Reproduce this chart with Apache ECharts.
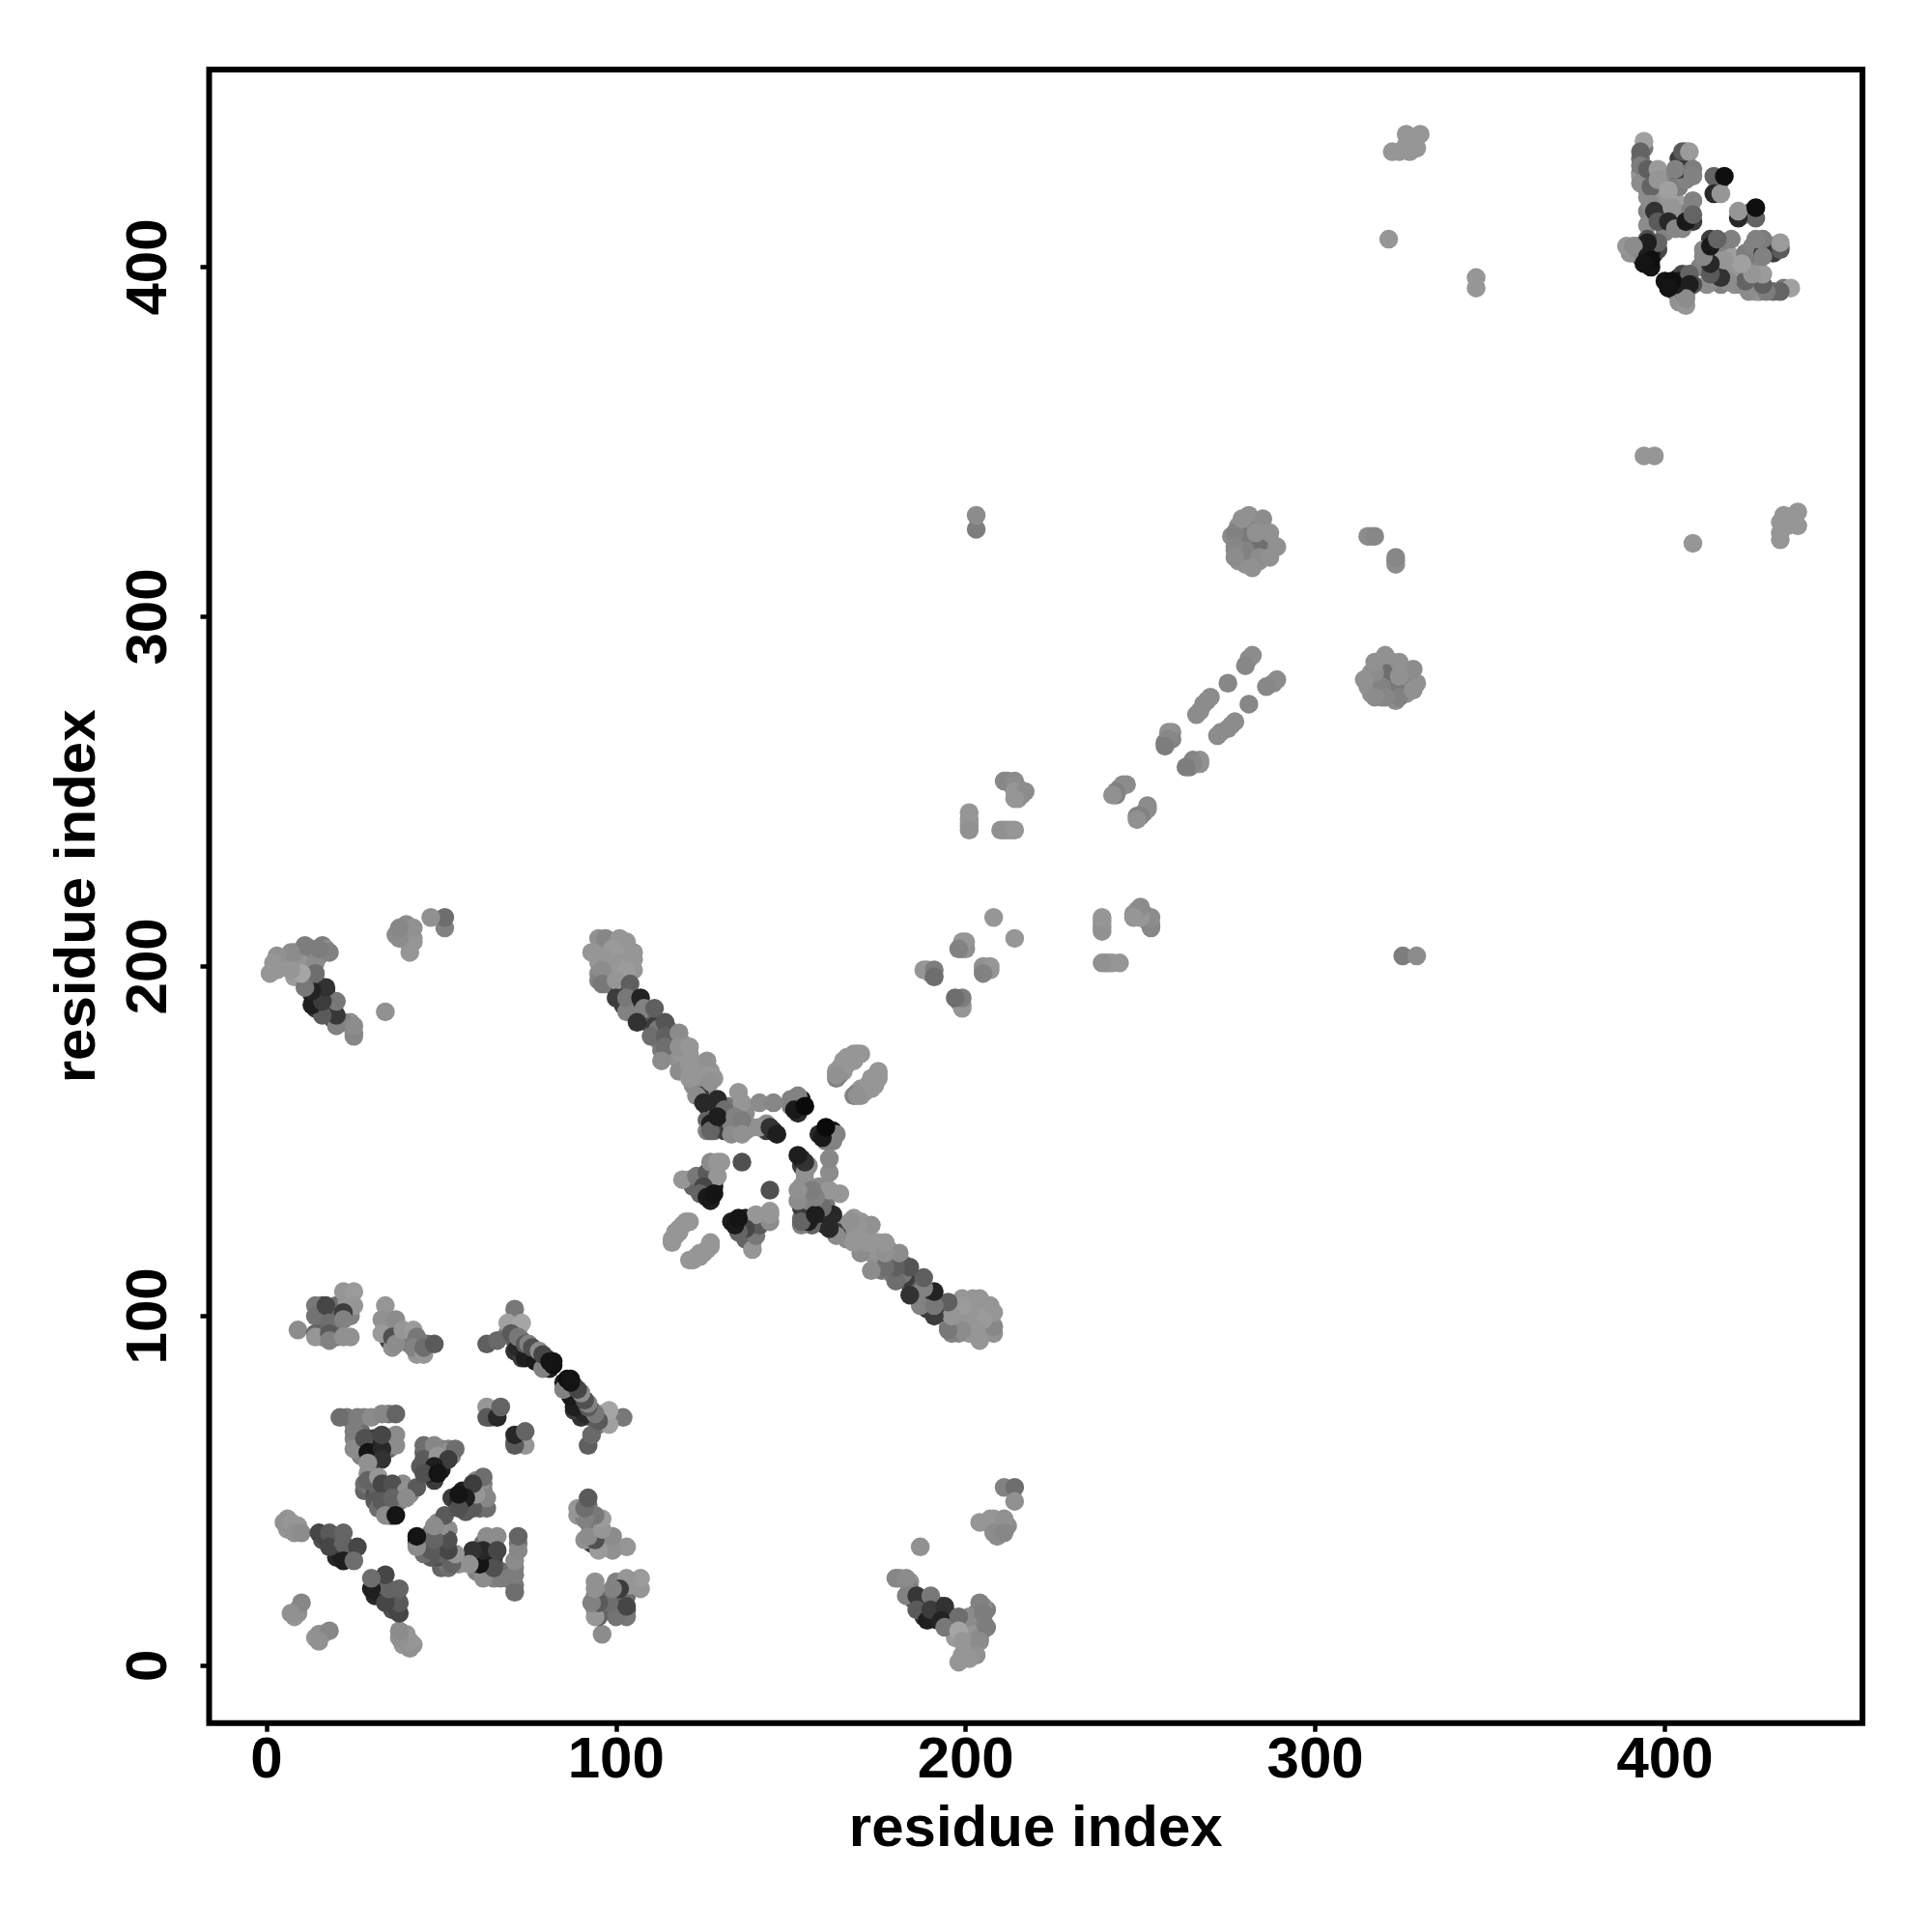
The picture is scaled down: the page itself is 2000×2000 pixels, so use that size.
<!DOCTYPE html>
<html><head><meta charset="utf-8">
<style>html,body{margin:0;padding:0;background:#fff}#c{width:2000px;height:2000px}</style>
<script src="https://cdn.jsdelivr.net/npm/echarts@6/dist/echarts.min.js"></script>
</head><body><div id="c"></div>
<script>
// Each contact is [residue i, residue j, grey level]; the map is symmetric.
const tickValues = [0, 100, 200, 300, 400];
const axisTitle = 'residue index';
const helixA = [[15,101,90],[16,98,70],[16,96,90],[16,103,80],[17,100,40],[19,101,50],[20,99,60],[20,103,110],[20,96,90],[20,94,120],[24,105,155],[24,100,130],[24,94,145],[23,104,150],[16,94,130],[9,96,140],[14,103,120],[14,100,115],[14,95,100],[14,94,150],[17,103,70],[18,98,110],[18,95,90],[18,93,130],[22,107,150],[25,107,155],[25,103,150],[22,101,60],[22,99,130],[22,94,145]];
const helixB = [[35,98,150],[35,96,150],[38,94,150],[40,94,150],[41,92,120],[44,90,140],[46,92,110],[44,92,130],[35,93,60],[38,96,145],[36,91,145],[43,89,150],[35,99,145],[34,103,150],[33,99,145],[37,99,140],[33,95,155],[36,94,80],[37,92,140],[39,96,150],[42,96,155],[43,94,120],[42,91,130],[45,89,150],[45,91,110],[48,92,90]];
const sheetC = [[72,96,150],[71,97,120],[69,95,120],[71,93,100],[71,90,50],[73,93,90],[73,90,30],[73,88,60],[74,90,120],[75,89,40],[75,90,100],[76,88,30],[77,90,90],[78,87,60],[78,88,120],[80,88,40],[80,86,40],[79,87,70],[81,85,30],[71,102,120],[69,98,160],[73,98,165],[63,92,95],[66,93,105],[70,95,90],[72,91,40],[74,88,30],[77,87,25],[79,85,130],[72,94,120],[74,92,90],[75,92,130],[76,91,80],[78,90,140],[79,89,70],[82,86,15],[82,87,20],[81,87,20]];
const patchD = [[64,73,130],[66,73,110],[64,71,100],[65,72,60],[63,74,150],[63,71,90],[66,71,40],[67,74,100]];
const patchE = [[23,71,120],[28,71,130],[35,72,120],[25,69,120],[25,65,130],[27,62,120],[27,67,110],[29,65,90],[31,65,60],[31,62,30],[35,64,50],[35,62,110],[31,59,60],[27,60,130],[29,55,145],[28,50,100],[28,52,110],[30,51,120],[31,49,80],[32,50,100],[34,50,90],[35,48,70],[37,50,120],[38,47,130],[31,47,90],[32,45,110],[35,43,130],[39,52,140],[41,49,140],[36,43,30],[21,71,110],[26,71,125],[30,71,140],[33,72,135],[37,72,100],[25,67,125],[25,62,140],[28,65,80],[37,66,140],[37,63,140],[29,61,20],[33,62,40],[33,59,50],[33,66,70],[29,58,145],[29,53,100],[32,54,150],[33,52,70],[36,52,80],[40,50,145],[43,51,90],[33,47,90],[36,48,100],[40,48,140],[34,43,140],[37,43,20]];
const patchF = [[45,61,100],[47,60,80],[47,56,50],[44,57,90],[46,57,80],[50,62,130],[52,62,130],[50,58,40],[50,56,30],[51,61,145],[53,60,140],[48,53,60],[47,55,40],[45,63,110],[48,63,135],[54,62,110],[45,59,90],[49,60,150],[52,59,60],[48,57,30],[45,55,80],[49,55,20]];
const patchH = [[6,42,150],[8,40,150],[9,40,150],[6,39,150],[16,36,80],[17,37,60],[19,36,90],[20,33,60],[20,31,40],[21,32,30],[23,33,90],[24,33,100],[24,31,100],[20,37,80],[5,41,145],[7,41,150],[8,38,145],[10,38,140],[15,38,70],[18,38,90],[22,38,100],[18,34,70],[22,35,100],[26,34,70],[22,30,30],[25,30,110]];
const patchI = [[9,16,140],[8,14,150],[8,15,150],[9,15,145],[10,18,135],[7,15,145]];
const blobTop = [[95,205,150],[95,201,150],[95,198,140],[95,196,130],[97,205,150],[97,201,150],[97,198,145],[97,195,130],[99,207,150],[99,201,150],[99,198,150],[99,195,140],[101,205,150],[101,198,150],[103,207,150],[103,205,150],[103,203,155],[103,201,150],[105,202,150],[105,199,150]];
const stripFill = [[101,193,70],[102,189,60],[104,192,50],[105,187,120],[106,190,60],[107,186,90],[109,184,80],[110,186,100],[111,183,60],[112,182,120],[112,179,130],[113,176,120],[115,182,130],[115,178,130],[116,175,140],[116,180,140],[117,179,145],[117,175,145],[118,173,145],[119,178,150],[119,174,150],[120,172,150],[120,170,150],[121,175,150],[122,169,145],[122,166,140],[123,172,150],[123,168,150],[124,170,150],[124,166,145],[125,172,150],[125,168,150],[125,164,140],[126,165,145],[127,170,150],[128,168,150],[124,163,60],[126,160,30],[127,158,40],[128,160,120],[128,156,60],[129,160,40],[130,158,100],[130,155,50],[128,153,110],[126,156,100],[126,153,130],[131,156,130],[131,153,60],[132,160,120],[132,157,100],[133,155,130],[133,152,140],[135,158,130],[137,158,140],[137,153,140],[138,154,140],[139,154,145],[143,155,140],[143,153,60],[145,153,30],[150,162,130],[150,160,130],[152,158,40],[152,160,30],[153,162,20]];
const longStrip = [[95,208,145],[97,208,135],[101,208,150],[99,205,155],[93,204,150],[105,204,150],[96,203,150],[101,201,150],[103,199,155],[96,199,140],[96,195,120],[100,196,150],[104,195,95],[100,191,60],[103,187,130],[103,191,120],[107,191,35],[108,188,130],[111,188,95],[106,184,50],[110,180,110],[114,184,85],[114,180,95],[114,177,110],[113,173,140],[118,181,140],[118,177,145],[121,177,150],[118,170,140],[121,172,150],[121,168,150],[126,173,145],[126,169,150],[127,167,145],[123,163,140],[125,161,40],[129,162,40],[127,155,30],[127,153,100],[131,159,110],[129,157,30],[135,164,150],[136,161,150],[134,157,130],[136,156,125],[136,152,145],[141,161,140],[145,161,135],[141,154,145],[144,154,50],[146,152,30],[152,163,130],[151,159,25],[154,160,10]];
const crossLow = [[128,137,30],[127,135,30],[125,135,60],[127,133,30],[125,139,100],[123,138,130],[121,139,150],[122,137,100],[128,141,140],[127,141,80],[126,139,120],[130,144,150],[119,139,150],[123,140,120],[126,141,90],[127,144,140],[129,144,150],[129,140,150],[125,137,70],[124,135,100],[126,134,25],[128,135,20],[136,144,80]];
const betaPairs = [[170,175,150],[168,173,150],[165,170,150],[166,172,150],[164,169,150],[168,175,150],[167,174,150],[164,171,150],[165,173,150],[164,170,145],[163,168,130],[120,127,150],[118,125,150],[118,124,150],[117,123,150],[116,121,150],[169,175,150],[166,174,150],[165,172,150],[163,170,150],[163,169,145],[121,127,150],[119,126,150],[117,124,150],[116,122,150]];
const nearDiag200 = [[200,207,150],[199,205,145],[200,205,145],[189,199,150],[190,198,120],[208,214,150],[199,207,150],[198,205,130],[188,199,150],[191,199,125],[191,197,110]];
const topFill = [[393,431,110],[393,427,120],[394,434,120],[395,425,120],[395,422,130],[395,420,140],[395,416,130],[395,412,140],[396,426,120],[397,420,140],[397,414,80],[399,422,140],[399,418,145],[399,415,145],[400,420,150],[400,417,150],[400,413,100],[403,419,160],[403,415,150],[402,425,135],[404,425,120],[406,431,100],[406,433,120],[404,431,60],[405,426,80],[404,423,125],[406,425,130],[407,416,130],[408,413,60],[405,411,135],[415,423,130],[416,425,60],[393,426,150],[400,410,130],[397,404,30],[396,400,20],[393,403,60],[391,404,130],[390,404,145],[393,405,130],[392,406,140],[396,406,40],[398,405,70],[394,406,60],[395,405,50],[396,404,25]];
const topCluster = [[394,436,160],[393,433,100],[393,429,125],[393,424,140],[395,428,95],[396,423,100],[398,428,155],[396,418,140],[396,413,140],[397,416,50],[398,425,150],[398,413,90],[401,422,160],[402,417,150],[401,413,40],[403,411,135],[405,433,90],[407,433,155],[404,428,50],[403,428,130],[408,428,125],[408,426,130],[408,419,130],[406,413,25],[408,415,100],[414,426,100],[414,421,40],[416,421,150],[417,426,15],[398,407,100],[395,408,80],[395,407,30],[389,406,150],[391,406,140],[395,403,30],[396,402,15],[394,401,20]];
const midStrip = [[281,288,140],[270,277,140],[267,273,140],[259,267,145],[258,266,140],[259,265,130],[257,264,125],[244,251,135],[243,249,130],[246,252,140],[282,289,140],[280,286,135],[275,281,135],[269,276,140],[268,275,140],[266,272,140],[258,267,145],[258,265,135],[257,263,125],[245,252,140],[243,250,130],[242,249,145]];
const midPatches = [[212,253,135],[213,252,140],[215,251,145],[216,249,150],[215,248,145],[201,241,145],[201,242,150],[201,240,150],[211,239,145],[213,239,150],[211,253,135],[214,253,140],[214,250,150],[217,250,140],[214,248,150],[201,244,150],[201,239,145],[212,239,150],[210,239,145],[214,239,150]];
const blobFill = [[316,284,145],[316,280,140],[316,278,145],[318,279,140],[318,282,140],[318,285,145],[319,286,145],[322,287,150],[322,284,140],[322,281,130],[322,278,135],[320,282,125],[325,285,145],[326,283,150],[326,280,145],[326,278,145],[327,283,145],[329,281,145],[325,281,135],[315,280,145],[319,277,140],[321,279,130],[323,276,140],[323,285,150]];
const blob320 = [[320,284,110],[323,279,120],[319,280,130],[324,277,130],[320,277,135],[317,277,140],[317,284,140],[328,285,140],[320,289,145],[317,287,145],[324,287,145],[314,282,145],[328,279,145],[324,283,145]];
const farContacts = [[325,203,125],[329,203,140],[324,433,150],[327,437,150],[327,433,150],[329,434,150],[329,437,150],[322,433,150],[326,438,150],[330,438,150],[328,434,150],[326,435,150],[321,408,150],[346,394,150],[346,397,150],[315,323,140],[316,323,140],[317,323,135]];
const lowFill = [[181,25,140],[184,24,145],[184,22,130],[185,19,60],[187,18,70],[188,19,60],[186,18,70],[188,14,50],[191,14,40],[190,18,50],[192,15,40],[192,13,30],[193,17,60],[195,12,120],[196,14,110],[197,12,130],[199,12,160],[199,10,160],[200,8,150],[200,5,155],[201,10,155],[202,12,140],[203,10,150],[205,13,130],[204,8,140],[202,5,150],[199,3,150],[206,16,125],[205,17,140],[197,8,155],[203,15,130],[201,14,140],[206,41,150],[209,40,140],[209,37,140],[210,40,145],[212,40,140],[207,42,150]];
const lowRight = [[211,51,130],[214,51,110],[214,47,145],[204,41,150],[208,42,150],[211,42,145],[208,38,140],[211,38,135],[187,34,145],[180,25,135],[183,25,140],[183,20,130],[186,20,55],[186,16,90],[190,20,120],[189,13,30],[190,16,60],[194,17,50],[193,13,35],[194,11,120],[198,14,110],[204,18,130],[205,15,125],[206,11,125],[198,10,165],[199,7,150],[204,7,140],[203,3,145],[198,1,150],[201,2,150]];

const contacts = [].concat(helixA, helixB, sheetC, patchD, patchE, patchF, patchH, patchI, blobTop, stripFill, longStrip, crossLow, betaPairs, nearDiag200, topFill, topCluster, midStrip, midPatches, blobFill, blob320, farContacts, lowFill, lowRight);
const points = [];
contacts.forEach(c => { points.push([c[0], c[1], c[2]]); points.push([c[1], c[0], c[2]]); });

const font = 'Liberation Sans';
const axisCommon = {
  type: 'value', min: -16.4, max: 456.5, splitLine: {show: false},
  axisLine: {show: false, onZero: false},
  axisTick: {show: true, length: 9, lineStyle: {color: '#000', width: 4.5}, customValues: tickValues},
  name: axisTitle, nameLocation: 'middle',
  nameTextStyle: {fontFamily: font, fontWeight: 'bold', fontSize: 60, color: '#000'}
};
const labelCommon = {customValues: tickValues, fontFamily: font, fontWeight: 'bold', fontSize: 60, color: '#000'};
const chart = echarts.init(document.getElementById('c'), null, {renderer: 'canvas'});
chart.setOption({
  animation: false, backgroundColor: '#fff',
  grid: {left: 216.5, right: 72, top: 72, bottom: 216.3, show: true, borderColor: '#000', borderWidth: 6, backgroundColor: 'transparent'},
  xAxis: Object.assign({}, axisCommon, {nameGap: 81, axisLabel: Object.assign({}, labelCommon, {margin: 10})}),
  yAxis: Object.assign({}, axisCommon, {nameGap: 105, axisLabel: Object.assign({}, labelCommon, {rotate: 90, margin: 31})}),
  series: [{type: 'scatter', symbol: 'circle', symbolSize: 19.5, data: points, large: false, clip: false,
    itemStyle: {opacity: 1, color: p => { const g = p.data[2]; return 'rgb(' + g + ',' + g + ',' + g + ')'; }}}]
});
</script></body></html>
